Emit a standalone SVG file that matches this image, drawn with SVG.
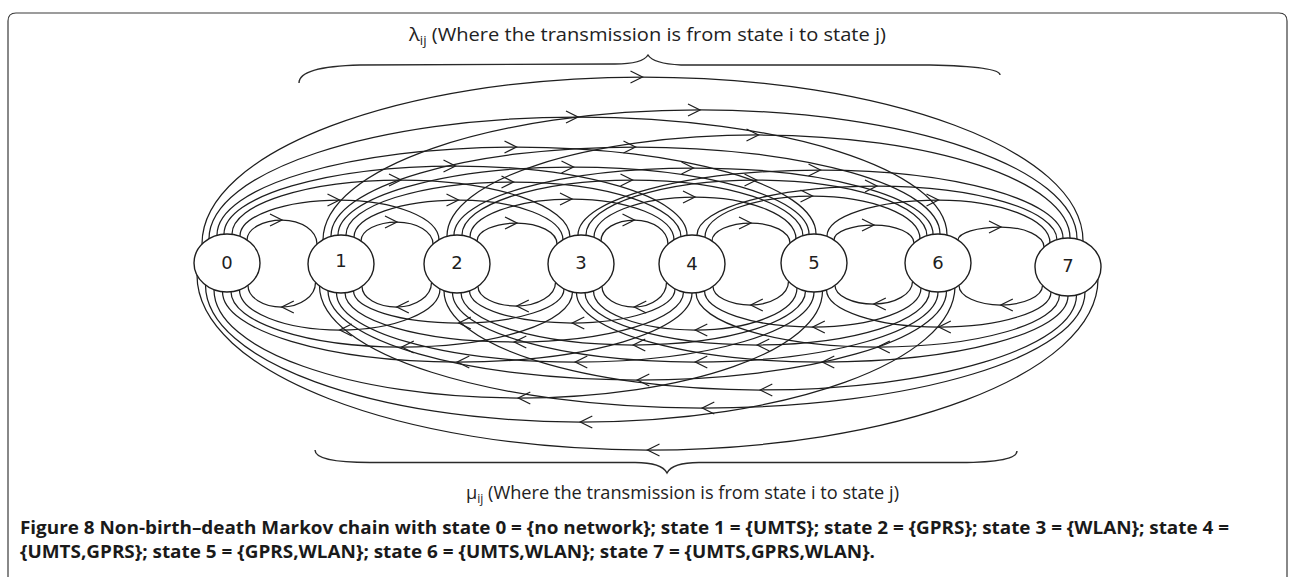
<svg xmlns="http://www.w3.org/2000/svg" width="1294" height="577" viewBox="0 0 1294 577">
  <style>
    .frame { fill: none; stroke: #3a3a3a; stroke-width: 1.2; }
    .arc { fill: none; stroke: #1e1e1e; stroke-width: 1.25; marker-mid: url(#chev); }
    .brace { fill: none; stroke: #2a2a2a; stroke-width: 1.4; }
    .state { fill: #ffffff; stroke: #1e1e1e; stroke-width: 1.4; }
    .num { font-family: "DejaVu Sans", "Liberation Sans", sans-serif; font-size: 18px; fill: #1e1e1e; text-anchor: middle; }
    .rate { font-family: "Open Sans", "Liberation Sans", sans-serif; font-size: 18px; fill: #222222; }
    .cap { font-family: "Open Sans", "Liberation Sans", sans-serif; font-size: 17px; font-weight: bold; fill: #1a1a1a; }
  </style>
  <defs>
    <marker id="chev" markerUnits="userSpaceOnUse" markerWidth="16" markerHeight="16" viewBox="-14 -8 16 16" refX="0" refY="0" orient="auto">
      <path d="M-12,-6 L0,0 L-12,6" fill="none" stroke="#1e1e1e" stroke-width="1.25"/>
    </marker>
  </defs>

  <rect width="1294" height="577" fill="#ffffff"/>
  <path class="frame" d="M8,590 L8,21 Q8,13 16,13 L1279,13 Q1287,13 1287,21 L1287,590"/>

  <!-- rate labels and braces -->
  <text class="rate" x="409" y="41" textLength="477" lengthAdjust="spacingAndGlyphs">λ<tspan font-size="12" dy="4">ij</tspan><tspan dy="-4"> (Where the transmission is from state i to state j)</tspan></text>
  <path class="brace" d="M299,83 C299,72 320,66 360,65 L615,64 C635,64 645,60 648,55 C651,60 661,64 681,65 L930,65 C975,66 1000,69 1000,75"/>
  <path class="brace" d="M315,450 C315,458 330,462.5 370,462.5 L635,462.5 C655,462.5 664,467 667,473 C670,467 679,462.5 699,462.5 L960,462.5 C1000,462.5 1017,458 1017,451"/>
  <text class="rate" x="466" y="499" textLength="433" lengthAdjust="spacingAndGlyphs">μ<tspan font-size="12" dy="4">ij</tspan><tspan dy="-4"> (Where the transmission is from state i to state j)</tspan></text>

  <g id="connectors">
    <!-- upward transitions i -> j (i < j), drawn above the states -->
    <g id="lambda-arcs">
      <path class="arc" d="M247,240 C247,229 262.7,220 282,220 C301.3,220 317,230.7 317,244"/>
      <path class="arc" d="M361,241 C361,230.5 377.1,222 397,222 C416.9,222 433,231.8 433,244"/>
      <path class="arc" d="M477,241 C477,231.1 494.9,223 517,223 C539.1,223 557,232.4 557,244"/>
      <path class="arc" d="M601,241 C601,229.4 616,220 634.5,220 C653,220 668,230.7 668,244"/>
      <path class="arc" d="M712,241 C712,231.1 729.5,223 751,223 C772.5,223 790,232 790,243"/>
      <path class="arc" d="M834,240 C834,231.7 851.9,225 874,225 C896.1,225 914,233.1 914,243"/>
      <path class="arc" d="M958,240 C958,232.8 977.3,227 1001,227 C1024.7,227 1044,236 1044,247"/>
      <path class="arc" d="M240,236 C240,216.1 284.5,200 339.5,200 C394.5,200 439,217.9 439,240"/>
      <path class="arc" d="M354,237 C354,216.6 400.8,200 458.5,200 C516.2,200 563,217.9 563,240"/>
      <path class="arc" d="M470,237 C470,216 515.7,199 572,199 C628.3,199 674,217.4 674,240"/>
      <path class="arc" d="M594,237 C594,214.9 639.2,197 695,197 C750.8,197 796,215.8 796,239"/>
      <path class="arc" d="M705,237 C705,214.4 753.1,196 812.5,196 C871.9,196 920,215.3 920,239"/>
      <path class="arc" d="M827,236 C827,216.1 876.9,200 938.5,200 C1000.1,200 1050,219.3 1050,243"/>
      <path class="arc" d="M232,234 C232,204.2 307.7,180 401,180 C494.3,180 570,205.5 570,237"/>
      <path class="arc" d="M346,235 C346,205.7 421,182 513.5,182 C606,182 681,206.6 681,237"/>
      <path class="arc" d="M462,235 C462,204.6 538.3,180 632.5,180 C726.7,180 803,205.1 803,236"/>
      <path class="arc" d="M586,235 C586,204.6 662.3,180 756.5,180 C850.7,180 927,205.1 927,236"/>
      <path class="arc" d="M697,235 C697,207.9 777.6,186 877,186 C976.4,186 1057,210.2 1057,240"/>
      <path class="arc" d="M224,234 C224,196.4 327.6,166 455.5,166 C583.4,166 687,196.9 687,235"/>
      <path class="arc" d="M338,235 C338,197.4 443.4,167 573.5,167 C703.6,167 809,197 809,234"/>
      <path class="arc" d="M454,235 C454,198 561.2,168 693.5,168 C825.8,168 933,197.5 933,234"/>
      <path class="arc" d="M578,235 C578,199.1 686.6,170 820.5,170 C954.4,170 1063,200.4 1063,238"/>
      <path class="arc" d="M217,235 C217,186.4 351.1,147 516.5,147 C681.9,147 816,185.9 816,234"/>
      <path class="arc" d="M331,236 C331,186.8 467.3,147 635.5,147 C803.7,147 940,185.9 940,234"/>
      <path class="arc" d="M447,236 C447,180.2 586.5,135 758.5,135 C930.5,135 1070,181.1 1070,238"/>
      <path class="arc" d="M209,239 C209,171.6 374.2,117 578,117 C781.8,117 947,169.8 947,235"/>
      <path class="arc" d="M323,240 C323,168.2 491.8,110 700,110 C908.2,110 1077,167.8 1077,239"/>
      <path class="arc" d="M202,244 C202,151.8 399.2,77 642.5,77 C885.8,77 1083,150.4 1083,241"/>
    </g>
    <!-- downward transitions j -> i (j > i), drawn below the states -->
    <g id="mu-arcs">
      <path class="arc" d="M315.5,282.4 C315.5,296 300.4,307 281.8,307 C263.1,307 248,297.3 248,285.4"/>
      <path class="arc" d="M431.5,282.4 C431.5,296 416,307 396.8,307 C377.6,307 362,297.8 362,286.4"/>
      <path class="arc" d="M555.5,282.4 C555.5,295.4 538.2,306 516.8,306 C495.4,306 478,297.2 478,286.4"/>
      <path class="arc" d="M666.5,282.4 C666.5,296 652.1,307 634.3,307 C616.5,307 602,297.8 602,286.4"/>
      <path class="arc" d="M788.5,281.4 C788.5,294.4 771.6,305 750.8,305 C730,305 713,296.7 713,286.4"/>
      <path class="arc" d="M912.5,281.4 C912.5,293.9 895.1,304 873.8,304 C852.4,304 835,295.7 835,285.4"/>
      <path class="arc" d="M1042.5,285.4 C1042.5,296.2 1023.8,305 1000.8,305 C977.7,305 959,296.2 959,285.4"/>
      <path class="arc" d="M440,288.9 C440,311.6 395.1,330 339.8,330 C284.4,330 239.5,312 239.5,289.8"/>
      <path class="arc" d="M564,288.9 C564,307.7 516.8,323 458.8,323 C400.6,323 353.5,308.6 353.5,290.8"/>
      <path class="arc" d="M675,288.9 C675,307.7 629,323 572.3,323 C515.5,323 469.5,308.6 469.5,290.8"/>
      <path class="arc" d="M797,287.9 C797,311.2 751.5,330 695.3,330 C639,330 593.5,312.5 593.5,290.8"/>
      <path class="arc" d="M921,287.9 C921,309.5 872.6,327 812.8,327 C752.9,327 704.5,310.8 704.5,290.8"/>
      <path class="arc" d="M1051,291.9 C1051,311.3 1000.8,327 938.8,327 C876.7,327 826.5,310.3 826.5,289.8"/>
      <path class="arc" d="M572.5,292 C572.5,322.4 496.1,347 401.8,347 C307.3,347 231,322.3 231,291.8"/>
      <path class="arc" d="M683.5,292 C683.5,319.6 607.8,342 514.3,342 C420.5,342 345,320 345,292.8"/>
      <path class="arc" d="M805.5,291 C805.5,320.8 728.4,345 633.3,345 C538.1,345 461,321.6 461,292.8"/>
      <path class="arc" d="M929.5,291 C929.5,320.8 852.4,345 757.3,345 C662.1,345 585,321.6 585,292.8"/>
      <path class="arc" d="M1059.5,295 C1059.5,323.7 978.2,347 877.8,347 C777.4,347 696,322.7 696,292.8"/>
      <path class="arc" d="M692,293 C692,331.1 586.9,362 457.3,362 C327.5,362 222.5,330.5 222.5,291.7"/>
      <path class="arc" d="M814,292 C814,330.7 707.1,362 575.3,362 C443.4,362 336.5,331 336.5,292.7"/>
      <path class="arc" d="M938,292 C938,330.7 829.4,362 695.3,362 C561.1,362 452.5,331 452.5,292.7"/>
      <path class="arc" d="M1068,296 C1068,332.5 958,362 822.3,362 C686.5,362 576.5,331 576.5,292.7"/>
      <path class="arc" d="M822.5,291 C822.5,350.1 686.3,398 518.3,398 C350.2,398 214,349.5 214,289.7"/>
      <path class="arc" d="M946.5,291 C946.5,340.2 808.1,380 637.3,380 C466.4,380 328,340 328,290.7"/>
      <path class="arc" d="M1076.5,295 C1076.5,347.5 935,390 760.3,390 C585.5,390 444,345.5 444,290.7"/>
      <path class="arc" d="M955,285.9 C955,361.1 787.3,422 580.3,422 C373.2,422 205.5,360.7 205.5,285"/>
      <path class="arc" d="M1085,291.9 C1085,356 913.7,408 702.3,408 C490.9,408 319.5,353.4 319.5,286"/>
      <path class="arc" d="M1098,279.1 C1098,373.5 896.3,450 647.5,450 C398.7,450 197,371.7 197,275.1"/>
    </g>
  </g>

  <!-- states -->
  <g id="state-0"><ellipse class="state" cx="227" cy="263" rx="33" ry="29"/><text class="num" x="227" y="268.5">0</text></g>
  <g id="state-1"><ellipse class="state" cx="341" cy="264" rx="33" ry="29"/><text class="num" x="341" y="267">1</text></g>
  <g id="state-2"><ellipse class="state" cx="457" cy="264" rx="33" ry="29"/><text class="num" x="457" y="269">2</text></g>
  <g id="state-3"><ellipse class="state" cx="581" cy="264" rx="33" ry="29"/><text class="num" x="581" y="269">3</text></g>
  <g id="state-4"><ellipse class="state" cx="692" cy="264" rx="33" ry="29"/><text class="num" x="692" y="270">4</text></g>
  <g id="state-5"><ellipse class="state" cx="814" cy="263" rx="33" ry="29"/><text class="num" x="814" y="268.5">5</text></g>
  <g id="state-6"><ellipse class="state" cx="938" cy="263" rx="33" ry="29"/><text class="num" x="938" y="268.5">6</text></g>
  <g id="state-7"><ellipse class="state" cx="1068" cy="267" rx="33" ry="29"/><text class="num" x="1068" y="272">7</text></g>

  <!-- caption -->
  <text class="cap" x="20" y="534" textLength="1209" lengthAdjust="spacingAndGlyphs">Figure 8 Non-birth–death Markov chain with state 0 = {no network}; state 1 = {UMTS}; state 2 = {GPRS}; state 3 = {WLAN}; state 4 =</text>
  <text class="cap" x="20" y="558" textLength="855" lengthAdjust="spacingAndGlyphs">{UMTS,GPRS}; state 5 = {GPRS,WLAN}; state 6 = {UMTS,WLAN}; state 7 = {UMTS,GPRS,WLAN}.</text>
</svg>
